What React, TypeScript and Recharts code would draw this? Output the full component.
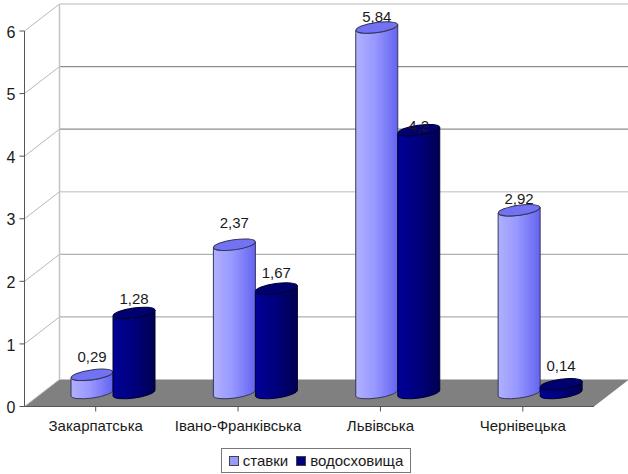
import React from 'react';
import { BarChart, Bar, XAxis, YAxis, CartesianGrid, LabelList, Legend } from 'recharts';

const regions = ['Закарпатська', 'Івано-Франківська', 'Львівська', 'Чернівецька'];
const ponds = [0.29, 2.37, 5.84, 2.92];
const reservoirs = [1.28, 1.67, 4.2, 0.14];
const yTicks = [0, 1, 2, 3, 4, 5, 6];

const chartData = regions.map((region, i) => ({
  region,
  ponds: ponds[i],
  reservoirs: reservoirs[i],
}));

// depth of the 3D box, and of the bars standing in the middle of it
const WALL_DX = 35;
const WALL_DY = 27;
const BAR_DX = 17.5;
const BAR_DY = 13.5;
const TILT = -8;
const FONT = '"Liberation Sans", Arial, sans-serif';

// how far each value label sits above its cylinder top
const pondLift = [18, 22, 11, 12];
const reservoirLift = [14, 16, 5, 19];

const Cylinder = (props: any) => {
  const { x, y, width, height, top, edge, gradient } = props;
  const rx = width / 2;
  const ry = 5;
  const slope = Math.tan((TILT * Math.PI) / 180) * rx;
  const left = x + BAR_DX;
  const right = left + width;
  const topY = y - BAR_DY;
  const baseY = y + height - BAR_DY;
  const body = [
    `M${left},${topY - slope}`,
    `L${left},${baseY - slope}`,
    `A${rx},${ry} ${TILT} 0 0 ${right},${baseY + slope}`,
    `L${right},${topY + slope}`,
    `A${rx},${ry} ${TILT} 0 1 ${left},${topY - slope}`,
    'Z',
  ].join(' ');
  return (
    <g>
      <path d={body} fill={`url(#${gradient})`} stroke={edge} strokeWidth={1} />
      <ellipse
        cx={left + rx}
        cy={topY}
        rx={rx}
        ry={ry}
        transform={`rotate(${TILT} ${left + rx} ${topY})`}
        fill={top}
        stroke={edge}
        strokeWidth={1}
      />
    </g>
  );
};

const makeValueLabel = (lift: number[]) => (props: any) => {
  const { x, y, width, value, index } = props;
  return (
    <text
      x={x + width / 2 + BAR_DX}
      y={y - BAR_DY - lift[index]}
      textAnchor="middle"
      dominantBaseline="central"
      fontFamily={FONT}
      fontSize={15}
      fill="#1a1a1a"
    >
      {String(value).replace('.', ',')}
    </text>
  );
};

const wallColor = (ratio: number) => {
  // the top, middle and low lines came out lighter in the source picture
  if (ratio < 0.08) return '#cfcfcf';
  if (ratio < 0.45) return '#8c8c8c';
  if (ratio < 0.6) return '#d2d2d2';
  return '#b0b0b0';
};

const WallLine = (props: any) => {
  const { x1, x2, y1, x, y, width, height } = props;
  const isFloor = Math.abs(y1 - (y + height)) < 1;
  const isTop = Math.abs(y1 - y) < 1;
  return (
    <g>
      {isFloor && (
        <polygon
          points={`${x},${y1} ${x + width},${y1} ${x + width + WALL_DX},${y1 - WALL_DY} ${x + WALL_DX},${y1 - WALL_DY}`}
          fill="#808080"
        />
      )}
      {isTop && (
        <line
          x1={x + WALL_DX}
          y1={y - WALL_DY}
          x2={x + WALL_DX}
          y2={y + height - WALL_DY}
          stroke="#c4c4c4"
          strokeWidth={1.5}
        />
      )}
      <line x1={x1} y1={y1} x2={x1 + WALL_DX} y2={y1 - WALL_DY} stroke="#b8b8b8" strokeWidth={1} />
      {!isFloor && (
        <line
          x1={x1 + WALL_DX}
          y1={y1 - WALL_DY}
          x2={x2 + WALL_DX}
          y2={y1 - WALL_DY}
          stroke={wallColor((y1 - y) / height)}
          strokeWidth={1.4}
        />
      )}
    </g>
  );
};

const LegendBox = ({ payload }: any) => (
  <div
    style={{
      display: 'flex',
      alignItems: 'center',
      justifyContent: 'center',
      boxSizing: 'border-box',
      width: 190,
      height: 25,
      border: '1px solid #777',
      background: '#fff',
      fontFamily: FONT,
      fontSize: 15,
      color: '#1a1a1a',
    }}
  >
    {(payload || []).map((item: any, i: number) => (
      <span key={item.value} style={{ display: 'flex', alignItems: 'center', marginLeft: i ? 8 : 0 }}>
        <span
          style={{
            display: 'inline-block',
            boxSizing: 'border-box',
            width: 10,
            height: 10,
            marginRight: 4,
            background: item.color,
            border: '1px solid #444',
          }}
        />
        {item.value}
      </span>
    ))}
  </div>
);

export default function App() {
  return (
    <div style={{ position: 'absolute', left: 0, top: 0, width: 628, height: 474 }}>
      <BarChart
        width={628}
        height={474}
        data={chartData}
        barSize={42}
        barGap={0}
        margin={{ top: 31, right: 34, bottom: 37.5, left: 0 }}
      >
        <defs>
          <linearGradient id="pondBody" x1="0" y1="0" x2="1" y2="0">
            <stop offset="0" stopColor="#b0b0ff" />
            <stop offset="0.45" stopColor="#9898ff" />
            <stop offset="1" stopColor="#6464f0" />
          </linearGradient>
          <linearGradient id="reservoirBody" x1="0" y1="0" x2="1" y2="0">
            <stop offset="0" stopColor="#000098" />
            <stop offset="0.5" stopColor="#00007c" />
            <stop offset="1" stopColor="#000050" />
          </linearGradient>
        </defs>
        <CartesianGrid horizontal={(p: any) => <WallLine key={p.key} {...p} />} vertical={false} />
        <XAxis
          dataKey="region"
          height={30}
          axisLine={{ stroke: '#555' }}
          tickLine={{ stroke: '#555' }}
          tickSize={5}
          tickMargin={9}
          interval={0}
          tick={{ fontFamily: FONT, fontSize: 15, fill: '#1a1a1a' }}
        />
        <YAxis
          width={24.5}
          domain={[0, 6]}
          ticks={yTicks}
          axisLine={{ stroke: '#555' }}
          tickLine={{ stroke: '#555' }}
          tickSize={5}
          tickMargin={4}
          tick={{ fontFamily: FONT, fontSize: 16, fill: '#1a1a1a', dy: 1 }}
        />
        <Legend
          verticalAlign="middle"
          align="center"
          itemSorter={null}
          content={<LegendBox />}
          wrapperStyle={{ left: 221, top: 448, width: 190, height: 25 }}
        />
        <Bar
          dataKey="ponds"
          name="ставки"
          fill="#9999ff"
          isAnimationActive={false}
          shape={(p: any) => <Cylinder {...p} top="#7272f2" edge="#35355a" gradient="pondBody" />}
        >
          <LabelList dataKey="ponds" content={makeValueLabel(pondLift)} />
        </Bar>
        <Bar
          dataKey="reservoirs"
          name="водосховища"
          fill="#000080"
          isAnimationActive={false}
          shape={(p: any) => <Cylinder {...p} top="#000070" edge="#000030" gradient="reservoirBody" />}
        >
          <LabelList dataKey="reservoirs" content={makeValueLabel(reservoirLift)} />
        </Bar>
      </BarChart>
    </div>
  );
}
